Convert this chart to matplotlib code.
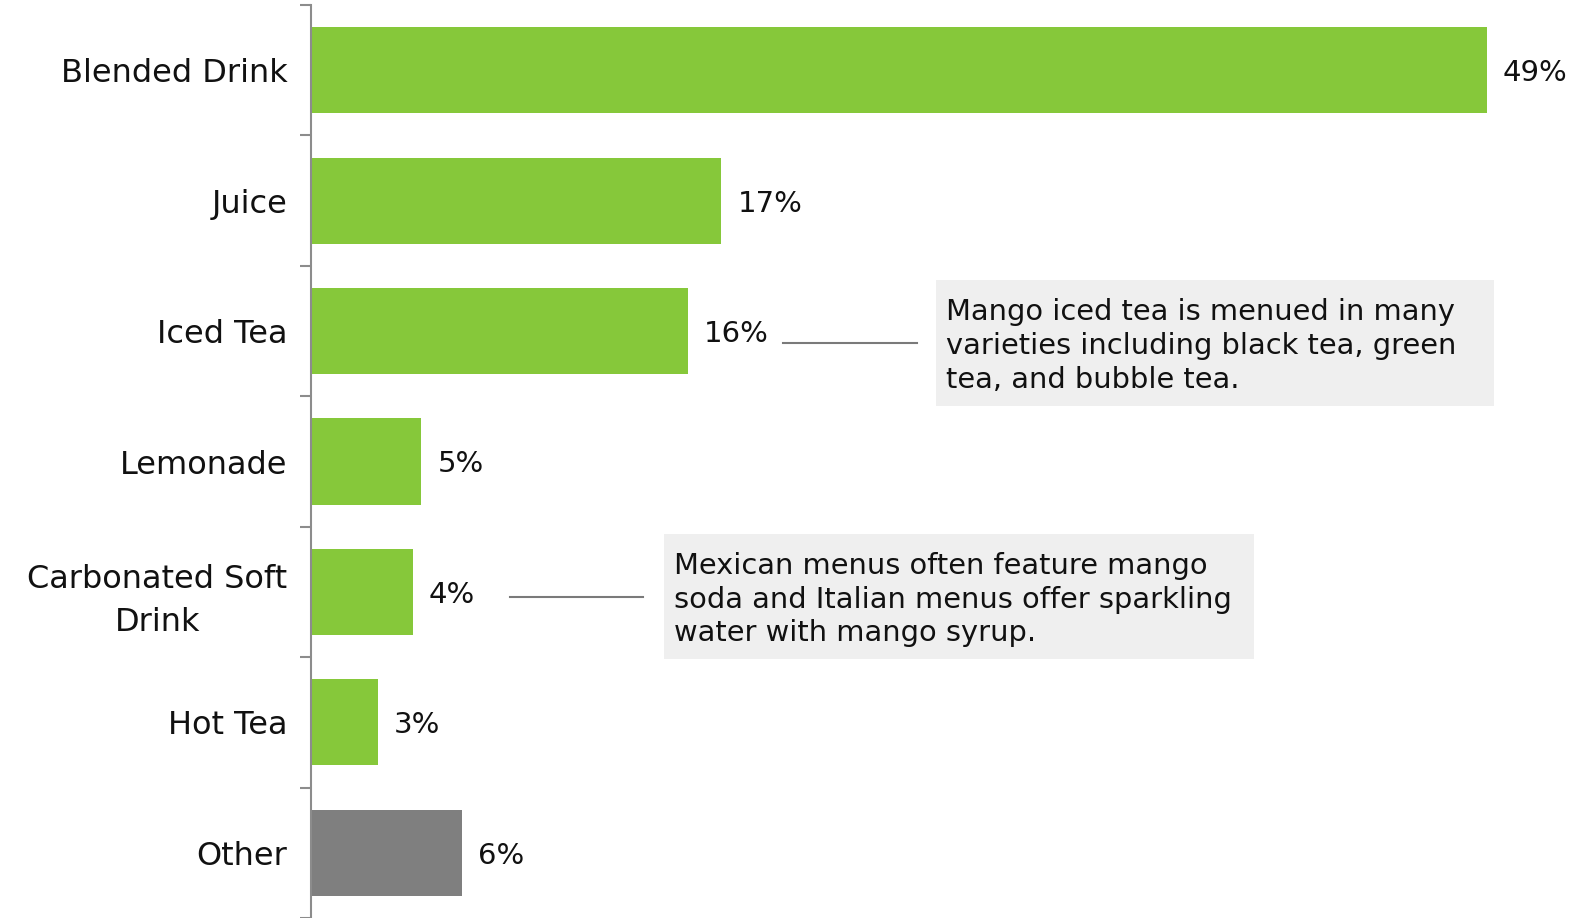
import matplotlib
matplotlib.use("Agg")
import matplotlib.pyplot as plt
from matplotlib.patches import Rectangle

categories = ["Blended Drink", "Juice", "Iced Tea", "Lemonade",
              "Carbonated Soft\nDrink", "Hot Tea", "Other"]
values = [49, 17.1, 15.7, 4.6, 4.25, 2.8, 6.3]
value_labels = ["49%", "17%", "16%", "5%", "4%", "3%", "6%"]
colors = ["#86C83A"] * 6 + ["#7F7F7F"]

note1 = "Mango iced tea is menued in many\nvarieties including black tea, green\ntea, and bubble tea."
note2 = "Mexican menus often feature mango\nsoda and Italian menus offer sparkling\nwater with mango syrup."

plt.rcParams['font.family'] = ['DejaVu Sans']

W, H = 1569, 918
fig = plt.figure(figsize=(W / 100, H / 100), dpi=100)
ax = fig.add_axes([311 / W, 0, 1 - 311 / W, 1 - 5 / H])

n = len(categories)
ypos = list(range(n))
ax.barh(ypos, values, height=0.66, color=colors, zorder=2)
ax.set_ylim(n - 0.5, -0.5)
ax.set_xlim(0, (W - 311) / 24.0)

ax.set_yticks([i - 0.5 for i in range(n + 1)], minor=False)
ax.set_yticklabels([])
ax.set_yticks(ypos, minor=True)
ax.set_yticklabels(categories, minor=True, fontsize=23, color="#111111",
                   ha="right", multialignment="center", linespacing=1.5)
ax.tick_params(axis="y", which="major", length=8, width=1.5, color="#8C8C8C", direction="out")
ax.tick_params(axis="y", which="minor", length=0, pad=17)
ax.set_xticks([])
for s in ["top", "right", "bottom"]:
    ax.spines[s].set_visible(False)
ax.spines["left"].set_color("#8C8C8C")
ax.spines["left"].set_linewidth(1.5)

for i, (v, lab) in enumerate(zip(values, value_labels)):
    ax.annotate(lab, (v, i), xytext=(16, -3), textcoords="offset pixels",
                ha="left", va="center", fontsize=21, color="#111111")

def note(x0, y0, x1, y1, text, lx0, lx1, ly):
    fig.patches.append(Rectangle((x0 / W, 1 - y1 / H), (x1 - x0) / W, (y1 - y0) / H,
                                 transform=fig.transFigure, facecolor="#EFEFEF", edgecolor="none"))
    fig.text((x0 + 10) / W, 1 - ((y0 + y1) / 2 + 3) / H, text, ha="left", va="center",
             fontsize=20.8, color="#111111", linespacing=1.27)
    fig.add_artist(plt.Line2D([lx0 / W, lx1 / W], [1 - ly / H, 1 - ly / H],
                              transform=fig.transFigure, color="#7A7A7A", lw=1.5))

note(936, 280, 1494, 406, note1, 783, 917, 343)
note(664, 534, 1254, 659, note2, 510, 643, 597)

fig.savefig("out.png", dpi=100)
